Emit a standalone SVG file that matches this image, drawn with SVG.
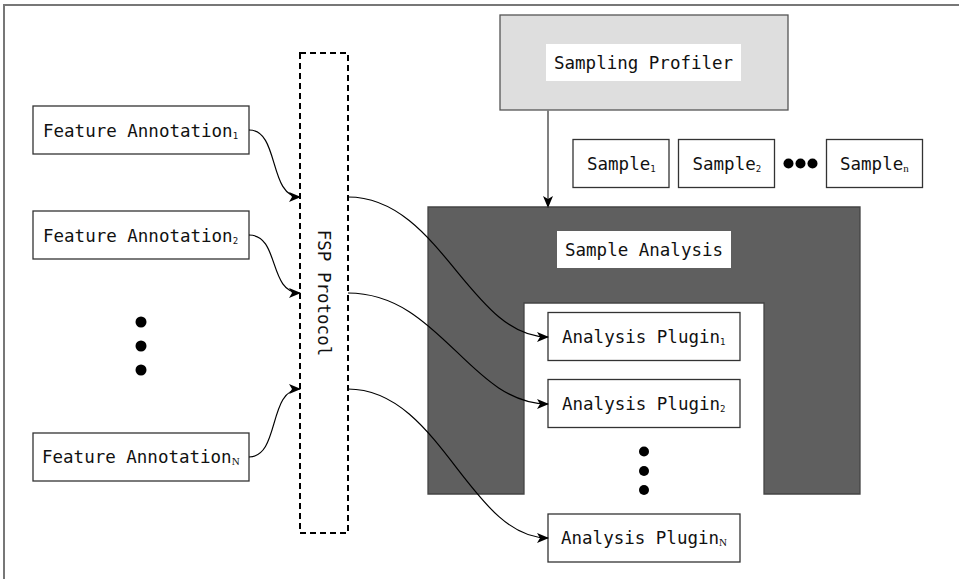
<svg xmlns="http://www.w3.org/2000/svg" width="959" height="579" viewBox="0 0 959 579">
<defs>
<style>
.box{fill:#fff;stroke:#333;stroke-width:1.3}
.t{font-family:"DejaVu Sans Mono","Liberation Mono",monospace;font-size:17.5px;fill:#111}
.sub{font-size:9px}
.subs{font-family:"Liberation Serif","DejaVu Serif",serif;font-size:11px}
.conn{fill:none;stroke:#000;stroke-width:1.2}
.dot{fill:#000}
</style>
<marker id="ah" viewBox="0 0 12 10" refX="11" refY="5" markerWidth="12" markerHeight="10" markerUnits="userSpaceOnUse" orient="auto">
<path d="M0,0 L12,5 L0,10 L3,5 Z" fill="#000"/>
</marker>
</defs>
<rect width="959" height="579" fill="#fff"/>
<path d="M4,580 V5 H960" fill="none" stroke="#777" stroke-width="2"/>

<g id="sampling-profiler">
<rect x="500" y="15" width="288" height="95" fill="#dedede" stroke="#555" stroke-width="1.3"/>
<rect x="546" y="44" width="195" height="37" fill="#fff"/>
<text class="t" x="554" y="69">Sampling Profiler</text>
</g>

<g id="sample-analysis">
<path d="M428,207 H860 V494 H764 V303 H524 V494 H428 Z" fill="#5f5f5f" stroke="#444" stroke-width="1.3"/>
<rect x="557" y="231" width="174" height="37" fill="#fff"/>
<text class="t" x="565" y="256">Sample Analysis</text>
</g>

<g id="sample1">
<rect class="box" x="573" y="139.5" width="96" height="48"/>
<text class="t" x="587" y="169.5">Sample<tspan class="sub" dy="2">1</tspan></text>
</g>
<g id="sample2">
<rect class="box" x="678.5" y="139.5" width="96" height="48"/>
<text class="t" x="692.5" y="169.5">Sample<tspan class="sub" dy="2">2</tspan></text>
</g>
<g id="sample-dots">
<circle class="dot" cx="788.5" cy="163.5" r="5"/>
<circle class="dot" cx="800.5" cy="163.5" r="5"/>
<circle class="dot" cx="812.5" cy="163.5" r="5"/>
</g>
<g id="samplen">
<rect class="box" x="826.5" y="139.5" width="96" height="48"/>
<text class="t" x="840" y="169.5">Sample<tspan class="subs" dy="2">n</tspan></text>
</g>

<g id="fa1">
<rect class="box" x="33" y="106" width="216" height="48"/>
<text class="t" x="43" y="136.5">Feature Annotation<tspan class="sub" dy="2">1</tspan></text>
</g>
<g id="fa2">
<rect class="box" x="33" y="211" width="216" height="48"/>
<text class="t" x="43" y="241.5">Feature Annotation<tspan class="sub" dy="2">2</tspan></text>
</g>
<g id="fa-dots">
<circle class="dot" cx="141" cy="322" r="5.5"/>
<circle class="dot" cx="141" cy="346" r="5.5"/>
<circle class="dot" cx="141" cy="370" r="5.5"/>
</g>
<g id="faN">
<rect class="box" x="33" y="433" width="216" height="48"/>
<text class="t" x="42" y="463">Feature Annotation<tspan class="subs" dy="2">N</tspan></text>
</g>

<g id="fsp">
<rect x="300" y="53" width="48" height="480" fill="#fff" stroke="#000" stroke-width="2" stroke-dasharray="6,4"/>
<text class="t" transform="translate(318,293) rotate(90)" text-anchor="middle">FSP Protocol</text>
</g>

<g id="plugin1">
<rect class="box" x="548" y="312.5" width="192" height="48"/>
<text class="t" x="562" y="342.5">Analysis Plugin<tspan class="sub" dy="2">1</tspan></text>
</g>
<g id="plugin2">
<rect class="box" x="548" y="379.5" width="192" height="48"/>
<text class="t" x="562" y="409.5">Analysis Plugin<tspan class="sub" dy="2">2</tspan></text>
</g>
<g id="plugin-dots">
<circle class="dot" cx="644" cy="451.5" r="5"/>
<circle class="dot" cx="644" cy="471" r="5"/>
<circle class="dot" cx="644" cy="490" r="5"/>
</g>
<g id="pluginN">
<rect class="box" x="548" y="514" width="192" height="48"/>
<text class="t" x="561" y="544">Analysis Plugin<tspan class="subs" dy="2">N</tspan></text>
</g>

<g id="connectors">
<path d="M548,110 V207" fill="none" stroke="#808080" stroke-width="2" marker-end="url(#ah)"/>
<path class="conn" d="M249,130 C280,130 268,197 300,197" marker-end="url(#ah)"/>
<path class="conn" d="M249,235 C280,235 268,293 300,293" marker-end="url(#ah)"/>
<path class="conn" d="M249,457 C280,457 268,389 300,389" marker-end="url(#ah)"/>
<path class="conn" d="M348,197 C440,197 470,337 548,337" marker-end="url(#ah)"/>
<path class="conn" d="M348,293 C440,293 470,404 548,404" marker-end="url(#ah)"/>
<path class="conn" d="M348,389 C440,389 470,538 548,538" marker-end="url(#ah)"/>
</g>
</svg>
